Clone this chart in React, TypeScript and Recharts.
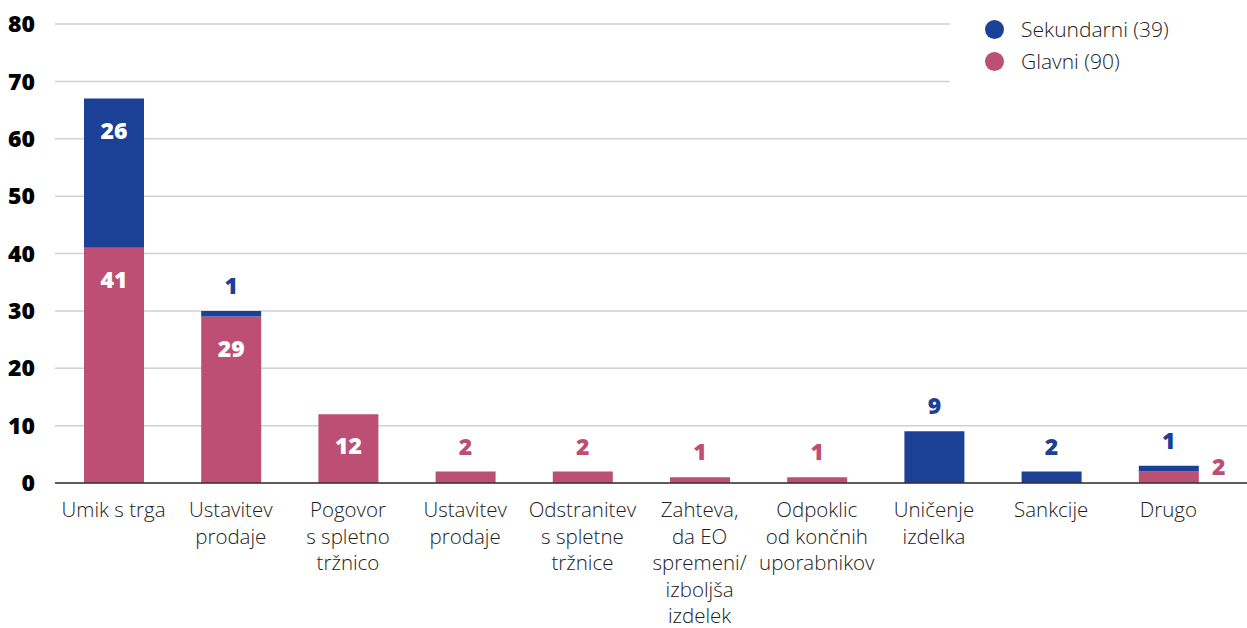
import { BarChart, Bar, XAxis, YAxis, CartesianGrid, LabelList } from "recharts";

const categories = [
  "Umik s trga",
  "Ustavitev\nprodaje",
  "Pogovor\ns spletno\ntržnico",
  "Ustavitev\nprodaje",
  "Odstranitev\ns spletne\ntržnice",
  "Zahteva,\nda EO\nspremeni/\nizboljša\nizdelek",
  "Odpoklic\nod končnih\nuporabnikov",
  "Uničenje\nizdelka",
  "Sankcije",
  "Drugo",
];
const glavni = [41, 29, 12, 2, 2, 1, 1, 0, 0, 2];
const sekundarni = [26, 1, 0, 0, 0, 0, 0, 9, 2, 1];
const yTicks = [0, 10, 20, 30, 40, 50, 60, 70, 80];

const BLUE = "#1a4195";
const PINK = "#bc4f73";
const FONT = "'Open Sans', sans-serif";

const data = categories.map((name, i) => ({ name, glavni: glavni[i], sekundarni: sekundarni[i] }));

const totalGlavni = glavni.reduce((s, v) => s + v, 0);
const totalSek = sekundarni.reduce((s, v) => s + v, 0);

function CategoryTick({ x, y, payload }: any) {
  const lines = String(payload.value).split("\n");
  return (
    <text x={x} y={y} textAnchor="middle" fill="#222" fontSize={20.5} fontFamily={FONT} fontWeight={300}>
      {lines.map((l, i) => (
        <tspan key={i} x={x} dy={i === 0 ? 32 : 26.6}>
          {l}
        </tspan>
      ))}
    </text>
  );
}

function makeLabel(color: string, isGlavni: boolean) {
  return (props: any) => {
    const { x, y, width, value, index } = props;
    if (!value) return null;
    const cx = x + width / 2;
    const common = { fontSize: 23, fontWeight: 800, fontFamily: FONT };
    if (value >= 10) {
      return (
        <text x={cx} y={y + 31} textAnchor="middle" dominantBaseline="central" fill="#fff" {...common}>
          {value}
        </text>
      );
    }
    if (isGlavni && sekundarni[index] > 0) {
      return (
        <text x={x + width + 20} y={y - 6} textAnchor="middle" dominantBaseline="central" fill={color} {...common}>
          {value}
        </text>
      );
    }
    return (
      <text x={cx} y={y - 26} textAnchor="middle" dominantBaseline="central" fill={color} {...common}>
        {value}
      </text>
    );
  };
}

function LegendBox() {
  const items = [
    { label: `Sekundarni (${totalSek})`, color: BLUE },
    { label: `Glavni (${totalGlavni})`, color: PINK },
  ];
  return (
    <div
      style={{
        position: "absolute",
        left: 950,
        top: 0,
        width: 297,
        height: 105,
        background: "#fff",
        paddingTop: 13,
        boxSizing: "border-box",
      }}
    >
      {items.map((it) => (
        <div key={it.label} style={{ display: "flex", alignItems: "center", height: 32, paddingLeft: 35 }}>
          <span style={{ width: 19, height: 19, borderRadius: 10, background: it.color, display: "inline-block" }} />
          <span style={{ marginLeft: 17, fontSize: 21, fontFamily: FONT, fontWeight: 300, color: "#222" }}>
            {it.label}
          </span>
        </div>
      ))}
    </div>
  );
}

export default function App() {
  return (
    <div style={{ position: "absolute", left: 0, top: 0, width: 1247, height: 628, background: "#fff" }}>
      <BarChart width={1247} height={628} data={data} margin={{ top: 24, right: 0, bottom: 0, left: 0 }}>
        <CartesianGrid vertical={false} stroke="#d0d0d0" strokeWidth={1.5} />
        <XAxis
          dataKey="name"
          tick={<CategoryTick />}
          tickLine={false}
          axisLine={{ stroke: "#333", strokeWidth: 1.5 }}
          interval={0}
          height={145}
          padding={{ left: 0, right: 20 }}
          tickSize={0}
        />
        <YAxis
          domain={[0, 80]}
          ticks={yTicks}
          tickLine={false}
          axisLine={false}
          width={55}
          tickMargin={14}
          tick={{ fill: "#000", fontSize: 23, fontWeight: 800, fontFamily: FONT }}
        />
        <Bar dataKey="glavni" stackId="a" fill={PINK} barSize={60} isAnimationActive={false}>
          <LabelList dataKey="glavni" content={makeLabel(PINK, true)} />
        </Bar>
        <Bar dataKey="sekundarni" stackId="a" fill={BLUE} barSize={60} isAnimationActive={false}>
          <LabelList dataKey="sekundarni" content={makeLabel(BLUE, false)} />
        </Bar>
      </BarChart>
      <LegendBox />
    </div>
  );
}
